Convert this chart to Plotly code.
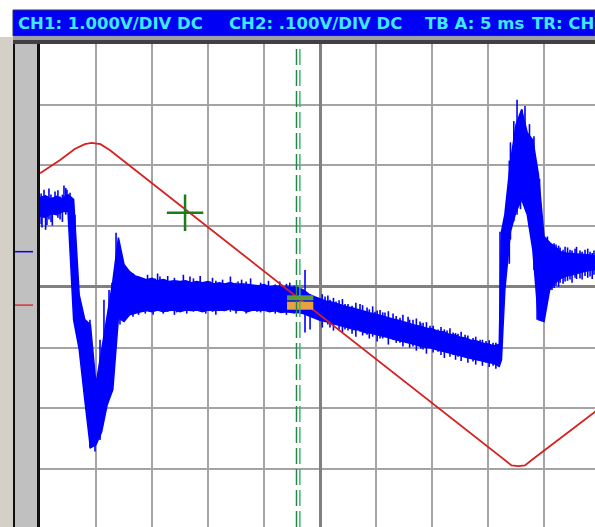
import plotly.graph_objects as go

# ---------------- scope settings ----------------
ch1_volts_per_div = 1.0
ch2_volts_per_div = 0.1
ch1_offset_div = -0.30
ch2_offset_div = 0.58

header_texts = ["CH1: 1.000V/DIV DC", "CH2: .100V/DIV DC", "TB A: 5 ms", "TR: CH"]
header_px = [16, 227, 423, 530]

# ---------------- CH1 (red triangle) ----------------
ch1_t_ms = [-25.0, -23.2, -21.9, -21.0, -20.4, -19.6, -18.75, 16.5, 17.1, 17.7, 18.3, 18.9, 24.6]
ch1_v = [2.17, 2.39, 2.57, 2.65, 2.67, 2.65, 2.55, -2.55, -2.64, -2.65, -2.64, -2.55, -1.75]

# ---------------- CH2 (noisy blue): core band envelope ----------------
ch2_t_ms = [-25.0, -24.5, -24.0, -23.5, -23.0, -22.5, -22.0, -21.5, -21.0, -20.5,
            -20.0, -19.5, -19.0, -18.5, -18.0, -17.5, -17.0, -16.5, -16.0, -15.5,
            -15.0, -14.5, -14.0, -13.5, -13.0, -12.5, -12.0, -11.5, -11.0, -10.5,
            -10.0, -9.5, -9.0, -8.5, -8.0, -7.5, -7.0, -6.5, -6.0, -5.5,
            -5.0, -4.5, -4.0, -3.5, -3.0, -2.5, -2.0, -1.5, -1.0, -0.5,
            0.0, 0.5, 1.0, 1.5, 2.0, 2.5, 3.0, 3.5, 4.0, 4.5,
            5.0, 5.5, 6.0, 6.5, 7.0, 7.5, 8.0, 8.5, 9.0, 9.5,
            10.0, 10.5, 11.0, 11.5, 12.0, 12.5, 13.0, 13.5, 14.0, 14.5,
            15.0, 15.5, 16.0, 16.2, 16.5, 17.0, 17.5, 18.0, 18.5, 19.0,
            19.5, 20.0, 20.5, 21.0, 21.5, 22.0, 22.5, 23.0, 23.5, 24.0,
            24.5, 25.0]
ch2_max_mv = [89, 92, 87, 91, 87, 94, 86, -71, -112, -120,
              -219, -161, -109, -49, 23, -21, -33, -40, -43, -46,
              -44, -48, -46, -49, -48, -49, -48, -51, -49, -51,
              -49, -53, -51, -53, -51, -54, -53, -54, -54, -56,
              -54, -58, -56, -58, -58, -59, -59, -63, -70, -74,
              -78, -81, -83, -86, -88, -91, -93, -96, -98, -101,
              -103, -106, -108, -111, -113, -116, -118, -121, -123, -126,
              -127, -131, -132, -136, -137, -141, -142, -146, -147, -151,
              -152, -155, -153, 33, 61, 147, 209, 234, 196, 184,
              127, 25, 15, 7, 0, -2, -3, -3, -5, -5,
              -7, -7]
ch2_min_mv = [59, 56, 63, 61, 66, 66, -112, -161, -244, -323,
              -318, -297, -252, -227, -109, -115, -104, -101, -99, -97,
              -99, -96, -99, -97, -96, -99, -96, -97, -96, -99,
              -96, -97, -96, -97, -94, -97, -96, -99, -96, -97,
              -96, -99, -97, -100, -99, -100, -100, -102, -106, -110,
              -113, -115, -118, -120, -123, -125, -128, -129, -133, -134,
              -136, -139, -141, -144, -146, -148, -151, -153, -156, -157,
              -159, -162, -164, -167, -169, -171, -174, -176, -179, -181,
              -182, -184, -189, -178, -63, 33, 66, 86, 61, 3,
              -112, -115, -63, -51, -44, -40, -38, -35, -33, -31,
              -30, -28]

# ---------------- CH2 noise spikes (time, high, low) ----------------
spike_t_ms = [-24.9, -24.82, -24.64, -24.5, -24.38, -24.2, -24.02, -23.9, -23.66, -23.4,
              -23.21, -23.0, -22.86, -22.7, -22.59, -22.4, -22.32,
              -21.88, -20.89, -20.54, -20.09, -19.64, -19.29, -18.84, -18.57,
              -18.21, -17.86, -17.5, -16.96, -16.7, -16.43, -16.2, -15.89, -15.6, -15.4,
              -15.18, -14.9, -14.73, -14.5, -14.29, -14.0, -13.84, -13.6, -13.21, -13.0,
              -12.8, -12.5, -12.2, -11.9, -11.61, -11.3, -10.98, -10.7, -10.45, -10.2,
              -9.82, -9.6, -9.3, -9.11, -8.7, -8.30, -8.0, -7.77, -7.5, -7.32, -7.0,
              -6.88, -6.6, -6.2, -5.98, -5.63, -5.3, -4.91, -4.6, -4.20, -4.0, -3.6,
              -3.30, -3.0, -2.7, -2.3, -1.34,
              -0.89, 0.2, 0.45, 0.7, 0.89, 1.2, 1.43, 1.7, 2.0, 2.23, 2.5, 2.86, 3.2,
              3.57, 3.8, 4.2, 4.4, 4.7, 4.91, 5.1, 5.36, 5.6, 5.80, 6.1, 6.52, 6.8,
              7.14, 7.4, 7.86, 8.0, 8.30, 8.6, 8.93, 9.0, 9.20, 9.5, 9.82, 10.1,
              10.54, 10.8, 11.1, 11.34, 11.6, 11.88, 12.1, 12.32, 12.6, 12.95, 13.2,
              13.66, 13.9, 14.29, 14.5, 14.82, 15.1, 15.45, 15.7,
              16.07, 16.7, 16.9, 17.0, 17.3, 17.59, 17.9, 18.04, 18.3, 18.7, 19.1,
              19.38, 19.6, 19.91,
              20.18, 20.3, 20.45, 20.71, 20.9, 21.07, 21.3, 21.43, 21.7, 21.88, 22.1,
              22.32, 22.5, 22.77, 22.9, 23.21, 23.4, 23.66, 23.9, 24.11, 24.3, 24.46]
spike_hi_mv = [96, 86, 102, 92, 86, 104, 94, 89, 99, 101,
               91, 94, 109, 105, 102, 89, 97,
               61, -145, -112, -211, -145, -79, -63, -51,
               31, -21, -30, -40, -36, -44, -41, -49, -46, -38,
               -51, -48, -44, -36, -41, -49, -46, -40, -49, -43,
               -51, -54, -38, -48, -41, -44, -51, -40, -56, -51,
               -49, -43, -48, -53, -46, -54, -41, -59, -51, -49, -46,
               -54, -49, -44, -59, -61, -51, -58, -48, -59, -54, -49,
               -63, -53, -51, -56, -30,
               -79, -70, -74, -72, -79, -76, -82, -80, -78, -86, -86, -89, -84,
               -86, -88, -92, -95, -90, -99, -97, -96, -100, -100, -98, -102, -106,
               -109, -104, -107, -112, -112, -110, -115, -118, -117, -116, -122, -122,
               -128, -124, -128, -130, -126, -133, -134, -135, -132, -137, -138,
               -142, -140, -145, -145, -147, -146, -150, -150,
               33, 64, 150, 180, 215, 250, 200, 234, 240, 210, 190,
               135, 120, 28,
               20, 25, 16, 10, 14, 12, 10, 7, 3, 8, 7,
               3, 2, 5, 8, 2, 0, 3, 5, 0, -2, 2]
spike_lo_mv = [45, 40, 61, 36, 44, 53, 49, 43, 66, 56,
               53, 49, 72, 61, 69, 53, 56,
               -120, -260, -323, -329, -310, -236, -128, -231,
               -79, -120, -112, -100, -107, -99, -104, -94, -102, -97,
               -99, -104, -89, -94, -92, -102, -96, -99, -96, -104,
               -100, -96, -97, -102, -89, -99, -94, -97, -97, -102,
               -91, -99, -104, -96, -97, -92, -99, -97, -102, -89, -97,
               -94, -102, -97, -92, -99, -100, -92, -99, -99, -102, -97,
               -100, -104, -99, -102, -133,
               -128, -125, -109, -120, -125, -130, -115, -128, -133, -128, -130, -135, -140,
               -132, -138, -137, -143, -140, -133, -148, -143, -143, -138, -153, -145, -150,
               -150, -156, -147, -158, -156, -163, -153, -160, -161, -168, -158, -166,
               -165, -170, -175, -165, -173, -170, -178, -173, -180, -171, -183,
               -181, -186, -178, -188, -183, -190, -188, -193,
               -175, -10, -20, 20, 50, 61, 70, 86, 100, 40, -30,
               -112, -60, -112,
               -79, -75, -66, -63, -60, -56, -58, -51, -53, -49, -48,
               -46, -51, -43, -45, -44, -46, -40, -43, -41, -45, -38]

# ---------------- cursors ----------------
cursor_t_ms = [-2.1, -1.8]
cursor_colors = ["#1d8a45", "#3fb56f"]
cross_t_ms = [-12.05]
cross_v = [1.52]
trig_box_t_ms = [-2.95, -0.6]
trig_box_levels_div = [-0.18, -0.31]

# ---------------- conversions to screen divisions ----------------
def ch2_to_div(mv):
    return mv / 1000.0 / ch2_volts_per_div + ch2_offset_div


ch1_div = [v / ch1_volts_per_div + ch1_offset_div for v in ch1_v]
ch2_max_div = [ch2_to_div(mv) for mv in ch2_max_mv]
ch2_min_div = [ch2_to_div(mv) for mv in ch2_min_mv]
cross_div = [v / ch1_volts_per_div + ch1_offset_div for v in cross_v]

spike_x, spike_y = [], []
for st, sh, sl in zip(spike_t_ms, spike_hi_mv, spike_lo_mv):
    spike_x += [st, st, None]
    spike_y += [ch2_to_div(sl), ch2_to_div(sh), None]

X_RANGE = [-25.0, 24.55]
Y_RANGE = [-3.954, 4.0]
W, H = 595, 527
L, T = 40, 44
PW, PH = W - L, H - T


def px2paper_x(px):
    return (px - L) / PW


def py2paper_y(py):
    return (H - py) / PH


fig = go.Figure()

BLUE = "#0000ff"
fig.add_trace(go.Scatter(x=ch2_t_ms, y=ch2_max_div, mode="lines",
                         line=dict(color=BLUE, width=1.5), hoverinfo="skip"))
fig.add_trace(go.Scatter(x=ch2_t_ms, y=ch2_min_div, mode="lines", fill="tonexty",
                         fillcolor=BLUE, line=dict(color=BLUE, width=1.5), hoverinfo="skip"))
fig.add_trace(go.Scatter(x=spike_x, y=spike_y, mode="lines", connectgaps=False,
                         line=dict(color=BLUE, width=1.6), hoverinfo="skip"))

fig.add_trace(go.Scatter(x=ch1_t_ms, y=ch1_div, mode="lines",
                         line=dict(color="#d82020", width=1.8), hoverinfo="skip"))

fig.add_trace(go.Scatter(x=trig_box_t_ms, y=[trig_box_levels_div[0]] * 2, mode="lines",
                         line=dict(color="#5a9a3a", width=5), hoverinfo="skip"))
fig.add_trace(go.Scatter(x=trig_box_t_ms, y=[trig_box_levels_div[1]] * 2, mode="lines",
                         line=dict(color="#e8a040", width=8), hoverinfo="skip"))

for ct, cc in zip(cursor_t_ms, cursor_colors):
    fig.add_trace(go.Scatter(x=[ct, ct], y=[Y_RANGE[0], Y_RANGE[1]], mode="lines",
                             line=dict(color=cc, width=1.5, dash="16px,5px"),
                             hoverinfo="skip"))

fig.add_trace(go.Scatter(x=cross_t_ms, y=cross_div, mode="markers",
                         marker=dict(symbol="cross-thin", size=26,
                                     line=dict(color="#1c7c1c", width=2.5)),
                         hoverinfo="skip"))

shapes = []
shapes.append(dict(type="rect", xref="paper", yref="paper", layer="above",
                   x0=px2paper_x(0), x1=px2paper_x(13), y0=0, y1=py2paper_y(37),
                   fillcolor="#d4d0c8", line=dict(width=0)))
shapes.append(dict(type="rect", xref="paper", yref="paper", layer="above",
                   x0=px2paper_x(13), x1=px2paper_x(40), y0=0, y1=py2paper_y(38),
                   fillcolor="#101010", line=dict(width=0)))
shapes.append(dict(type="rect", xref="paper", yref="paper", layer="above",
                   x0=px2paper_x(15), x1=px2paper_x(37), y0=0, y1=py2paper_y(44),
                   fillcolor="#c0c0c0", line=dict(width=0)))
shapes.append(dict(type="rect", xref="paper", yref="paper", layer="above",
                   x0=px2paper_x(13), x1=1.0, y0=py2paper_y(44), y1=py2paper_y(38),
                   fillcolor="#404040", line=dict(width=0)))
shapes.append(dict(type="rect", xref="paper", yref="paper", layer="above",
                   x0=px2paper_x(13), x1=1.0, y0=py2paper_y(40), y1=py2paper_y(37),
                   fillcolor="#a0a0a0", line=dict(width=0)))
shapes.append(dict(type="rect", xref="paper", yref="paper", layer="above",
                   x0=px2paper_x(13), x1=1.0, y0=py2paper_y(36), y1=py2paper_y(10),
                   fillcolor="#0000f4", line=dict(color="#303060", width=1)))
shapes.append(dict(type="line", xref="paper", yref="y", layer="above",
                   x0=px2paper_x(15), x1=px2paper_x(33), y0=ch2_offset_div, y1=ch2_offset_div,
                   line=dict(color="#0000ff", width=1.5)))
shapes.append(dict(type="line", xref="paper", yref="y", layer="above",
                   x0=px2paper_x(15), x1=px2paper_x(33), y0=ch1_offset_div, y1=ch1_offset_div,
                   line=dict(color="#e03030", width=1.5)))

annotations = []
for txt, hx in zip(header_texts, header_px):
    annotations.append(dict(text=txt, xref="paper", yref="paper",
                            x=px2paper_x(hx), y=py2paper_y(23),
                            xanchor="left", yanchor="middle", showarrow=False,
                            font=dict(family="DejaVu Sans", size=16.5, color="#40e8ff",
                                      weight="bold")))

fig.update_layout(
    width=W, height=H,
    margin=dict(l=L, r=0, t=T, b=0, pad=0),
    paper_bgcolor="white", plot_bgcolor="white",
    showlegend=False,
    shapes=shapes, annotations=annotations,
    xaxis=dict(range=X_RANGE, dtick=5, tick0=0, showgrid=True, gridcolor="#a4a4a4",
               gridwidth=2, zeroline=True, zerolinecolor="#808080", zerolinewidth=3,
               showticklabels=False, ticks="", showline=False, fixedrange=True),
    yaxis=dict(range=Y_RANGE, dtick=1, tick0=0, showgrid=True, gridcolor="#a4a4a4",
               gridwidth=2, zeroline=True, zerolinecolor="#808080", zerolinewidth=3,
               showticklabels=False, ticks="", showline=False, fixedrange=True),
)

fig.write_html("out.html", config={"displayModeBar": False},
               post_script="document.body.style.margin='0';"
                           "document.body.style.overflow='hidden';"
                           "document.documentElement.style.overflow='hidden';")
